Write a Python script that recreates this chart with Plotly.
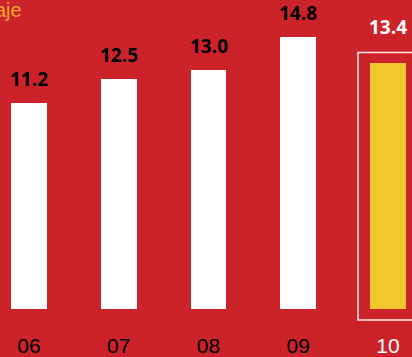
import plotly.graph_objects as go

categories = ["06", "07", "08", "09", "10"]
values = [11.2, 12.5, 13.0, 14.8, 13.4]
value_labels = ["11.2", "12.5", "13.0", "14.8", "13.4"]
title_text = "Porcentaje"

BG = "#CC232B"
YELLOW = "#F2C62F"
ORANGE = "#F4A532"

bar_colors = ["white"] * (len(categories) - 1) + [YELLOW]
tick_colors = ["black"] * (len(categories) - 1) + ["white"]
label_colors = ["black"] * (len(categories) - 1) + ["white"]

x_idx = list(range(len(categories)))

fig = go.Figure(go.Bar(
    x=x_idx, y=values, width=0.40,
    marker=dict(color=bar_colors, line=dict(width=0)),
    hoverinfo="skip",
))

scale = 18.55  # px per unit
plot_h = 312
annotations = []
for i, (v, t, c) in enumerate(zip(values, value_labels, label_colors)):
    annotations.append(dict(
        x=i, y=v, xref="x", yref="y", text=t, showarrow=False,
        yanchor="middle", yshift=24 if i < len(values) - 1 else 36,
        font=dict(family="Open Sans", size=19, color=c, weight=700),
    ))
annotations.append(dict(
    x=24 / 412, y=1.0, xref="paper", yref="paper", text=title_text,
    showarrow=False, xanchor="right", yanchor="top", yshift=3,
    font=dict(family="Liberation Sans", size=20, color=ORANGE, weight=400),
))
fig.update_layout(annotations=annotations)

fig.add_shape(
    type="rect", xref="x", yref="paper",
    x0=(358 - 29) / 89.75, x1=4.8,
    y0=(plot_h - 323) / plot_h, y1=(plot_h - 53) / plot_h,
    line=dict(color="rgba(255,255,255,0.9)", width=1.5),
    fillcolor="rgba(0,0,0,0)",
)

fig.update_layout(
    width=412, height=357,
    paper_bgcolor=BG, plot_bgcolor=BG,
    margin=dict(l=0, r=0, t=0, b=45, pad=0),
    showlegend=False,
    bargap=0,
    xaxis=dict(
        range=[-29 / 89.75, (412 - 29) / 89.75],
        tickmode="array", tickvals=x_idx,
        ticktext=[f"<span style='color:{c}'>{t}</span>" for t, c in zip(categories, tick_colors)],
        tickfont=dict(family="Liberation Sans", size=21, color="black"),
        showgrid=False, zeroline=False, showline=False,
        ticks="", ticklabelstandoff=22,
    ),
    yaxis=dict(
        range=[0, plot_h / scale], visible=False,
        showgrid=False, zeroline=False,
    ),
)

fig.write_html(
    "out.html",
    config={"displayModeBar": False, "staticPlot": True},
    post_script="document.body.style.margin='0';document.body.style.overflow='hidden';",
)
